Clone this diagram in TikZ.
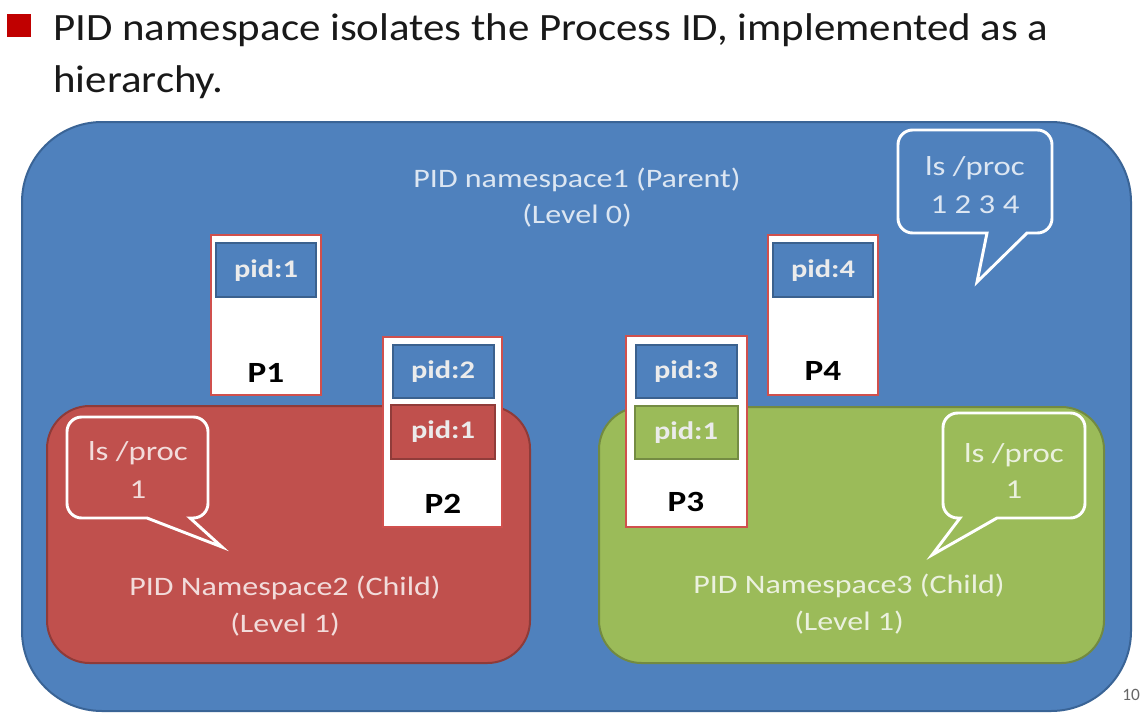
\documentclass[tikz,border=0pt]{standalone}
\usepackage{fontspec}
\setmainfont{Carlito}
\definecolor{nsblue}{HTML}{4F81BD}
\definecolor{nsbluedk}{HTML}{3A6496}
\definecolor{nsred}{HTML}{C0504D}
\definecolor{nsreddk}{HTML}{8E3B39}
\definecolor{nsgreen}{HTML}{9BBB59}
\definecolor{nsgreendk}{HTML}{728A41}
\definecolor{bluetxt}{HTML}{DCE6F2}
\definecolor{redtxt}{HTML}{F2DCDB}
\definecolor{greentxt}{HTML}{EBF1DE}
\definecolor{bulletred}{HTML}{C00000}
\definecolor{procline}{HTML}{D0504D}
\begin{document}
\begin{tikzpicture}[x=0.75pt,y=-0.75pt,
  txt/.style={inner sep=0pt, anchor=base, xscale=1.2, transform shape},
  head/.style={inner sep=0pt, anchor=base west, xscale=1.11, transform shape, font=\fontsize{29}{34}\selectfont, text=black!90},
  nslabel/.style={txt, font=\fontsize{20}{27}\selectfont},
  bubtxt/.style={txt, font=\fontsize{20.5}{27}\selectfont},
  pidtxt/.style={txt, anchor=center, font=\fontsize{19}{22}\selectfont\bfseries, text=white!92!black},
  ptxt/.style={txt, font=\fontsize{22}{24}\selectfont\bfseries, text=black},
  procbox/.style={draw=procline, fill=white, line width=1.6pt},
  pidbox/.style={fill=#1, draw=#1!75!black, line width=0.8pt},
  bubble/.style={draw=white, line width=2.2pt, line join=miter},
  region/.style={line width=1.5pt}
]
\useasboundingbox (0,0) rectangle (1142,718);
\fill[white] (0,0) rectangle (1142,718);

% header
\fill[bulletred] (7,14) rectangle (31,37);
\node[head] (h1) at (53,40) {PID namespace isolates the Process ID, implemented as a};
\node[head] (h2) at (53,92) {hierarchy.};

% outer namespace
\draw[region, fill=nsblue, draw=nsbluedk, rounded corners=60pt] (22,122) rectangle (1131,711);
\node[nslabel, text=bluetxt] (t1) at (577,187) {PID namespace1 (Parent)};
\node[nslabel, text=bluetxt] (t2) at (577,223) {(Level 0)};

% child namespaces
\draw[region, fill=nsred, draw=nsreddk, rounded corners=32pt] (47,406) rectangle (530,663);
\node[nslabel, text=redtxt] (r1) at (285,595) {PID Namespace2 (Child)};
\node[nslabel, text=redtxt] (r2) at (285,632) {(Level 1)};

\draw[region, fill=nsgreen, draw=nsgreendk, rounded corners=32pt] (599,407) rectangle (1104,663);
\node[nslabel, text=greentxt] (g1) at (849,593) {PID Namespace3 (Child)};
\node[nslabel, text=greentxt] (g2) at (849,630) {(Level 1)};

% speech bubbles
\draw[bubble, fill=nsblue] (975,130) [rounded corners=11pt] -- (1052,130) -- (1052,233)
  [sharp corners] -- (1027,233) -- (977,282) -- (987,233) [rounded corners=11pt] -- (898,233) -- (898,130) -- cycle;
\node[bubtxt, text=bluetxt] (b1a) at (975,175) {ls /proc};
\node[bubtxt, text=bluetxt] (b1b) at (975,213) {1 2 3 4};

\draw[bubble, fill=nsred] (137,417) [rounded corners=11pt] -- (208,417) -- (208,518)
  [sharp corners] -- (190,518) -- (222,547) -- (147,518) [rounded corners=11pt] -- (67,518) -- (67,417) -- cycle;
\node[bubtxt, text=redtxt] (b2a) at (138,460) {ls /proc};
\node[bubtxt, text=redtxt] (b2b) at (138,498) {1};

\draw[bubble, fill=nsgreen] (1014,413) [rounded corners=11pt] -- (1085,413) -- (1085,518)
  [sharp corners] -- (997,518) -- (932,555) -- (960,518) [rounded corners=11pt] -- (943,518) -- (943,413) -- cycle;
\node[bubtxt, text=greentxt] (b3a) at (1014,462) {ls /proc};
\node[bubtxt, text=greentxt] (b3b) at (1014,498) {1};

% processes
\draw[procbox] (211,235) rectangle (321,395);
\draw[pidbox=nsblue] (216,243) rectangle (316,297);
\node[pidtxt] (p1a) at (266,271) {pid:1};
\node[ptxt] (p1) at (266,382) {P1};

\draw[procbox] (383,337) rectangle (502,527);
\draw[pidbox=nsblue] (393,345) rectangle (494,398);
\node[pidtxt] (p2a) at (443,372) {pid:2};
\draw[pidbox=nsred] (391,405) rectangle (495,459);
\node[pidtxt] (p2b) at (443,432) {pid:1};
\node[ptxt] (p2) at (443,513) {P2};

\draw[procbox] (626,336) rectangle (747,527);
\draw[pidbox=nsblue] (636,345) rectangle (737,398);
\node[pidtxt] (p3a) at (686,372) {pid:3};
\draw[pidbox=nsgreen] (635,406) rectangle (738,459);
\node[pidtxt] (p3b) at (686,433) {pid:1};
\node[ptxt] (p3) at (686,511) {P3};

\draw[procbox] (768,235) rectangle (878,395);
\draw[pidbox=nsblue] (773,243) rectangle (873,297);
\node[pidtxt] (p4a) at (823,271) {pid:4};
\node[ptxt] (p4) at (823,380) {P4};

% page number
\node[inner sep=0pt, anchor=base west, font=\fontsize{13}{15}\selectfont, text=black!60] (pg) at (1122,700) {10};
\end{tikzpicture}
\end{document}
